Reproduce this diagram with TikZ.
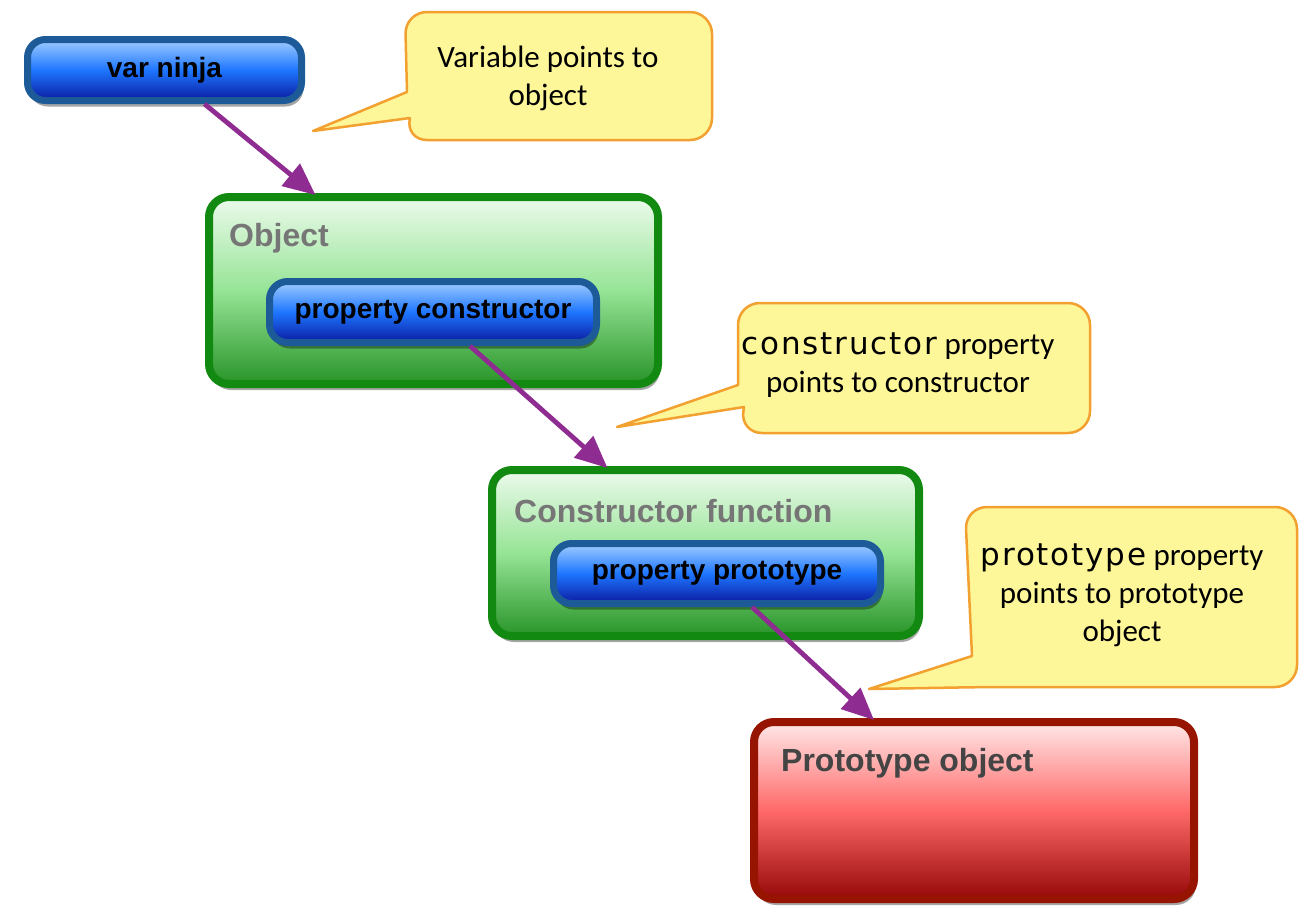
\documentclass[tikz,border=0pt]{standalone}
\usepackage{fontspec}
\setmainfont{Liberation Sans}
\newfontfamily\handfont{Carlito}
\newfontfamily\codefont[LetterSpace=6]{DejaVu Sans}
\usetikzlibrary{shadows,arrows.meta}
\definecolor{pillborder}{RGB}{28,90,152}
\definecolor{pilltop}{RGB}{160,205,255}
\definecolor{pillmid}{RGB}{30,118,255}
\definecolor{pillbot}{RGB}{10,26,160}
\definecolor{grnborder}{RGB}{18,138,18}
\definecolor{grntop}{RGB}{236,250,236}
\definecolor{grnmid}{RGB}{150,228,150}
\definecolor{grnbot}{RGB}{40,148,40}
\definecolor{redborder}{RGB}{150,20,0}
\definecolor{redtop}{RGB}{255,232,232}
\definecolor{redmid}{RGB}{255,105,105}
\definecolor{redbot}{RGB}{150,8,8}
\definecolor{arrowpurple}{RGB}{142,44,145}
\definecolor{calloutfill}{RGB}{254,247,154}
\definecolor{calloutborder}{RGB}{242,160,48}
\definecolor{titlegray}{RGB}{118,118,118}
\definecolor{titledark}{RGB}{68,68,68}
\tikzset{
  boxshadow/.style={drop shadow={shadow xshift=2pt,shadow yshift=-6pt,fill=black,opacity=0.35}},
  pill/.style={draw=pillborder,line width=7pt,rounded corners=18pt,
    top color=pilltop,bottom color=pillbot,middle color=pillmid,
    inner sep=0pt,font=\fontsize{28}{30}\selectfont\bfseries,text=black,boxshadow},
  grnbox/.style={draw=grnborder,line width=8pt,rounded corners=20pt,
    top color=grntop,bottom color=grnbot,middle color=grnmid,inner sep=0pt,boxshadow},
  redbox/.style={draw=redborder,line width=8pt,rounded corners=20pt,
    top color=redtop,bottom color=redbot,middle color=redmid,inner sep=0pt,boxshadow},
  boxtitle/.style={anchor=west,inner sep=0pt,font=\fontsize{32}{34}\selectfont\bfseries,text=titlegray},
  link/.style={draw=arrowpurple,line width=4.8pt,-{Triangle[length=32pt,width=28pt]}},
  callout/.style={draw=calloutborder,fill=calloutfill,line width=2.5pt,line join=round},
  handtext/.style={align=center,inner sep=0pt,font=\handfont\fontsize{31}{38}\selectfont,text=black}
}
\begin{document}
\begin{tikzpicture}[x=1pt,y=-1pt]
\useasboundingbox[fill=white] (0,0) rectangle (1310,910);

% callouts
\draw[callout] (313,131) -- (407,92) [rounded corners=22pt] -- (405,12) -- (712,12) -- (712,140) -- (405,140) [sharp corners] -- (410,118) -- cycle;
\node[handtext] (c1) at (548,78) {Variable points to\\object};

\draw[callout] (617,427) -- (738,385) [rounded corners=22pt] -- (738,303) -- (1090,303) -- (1090,433) -- (740,433) [sharp corners] -- (744,407) -- cycle;
\node[handtext] (c2) at (898,365) {{\codefont constructor} property\\points to constructor};

\draw[callout] (869,689) -- (972,656) [rounded corners=22pt] -- (965,507) -- (1297,507) -- (1297,687) -- (988,687) [sharp corners] -- cycle;
\node[handtext] (c3) at (1122,595) {{\codefont prototype} property\\points to prototype\\object};

% boxes
\node[pill,minimum width=274pt,minimum height=61pt] (ninja) at (164.5,70) {var ninja};

\node[grnbox,minimum width=449pt,minimum height=187pt] (obj) at (433.5,290.5) {};
\node[boxtitle] (objt) at (229,238) {Object};
\node[pill,minimum width=327pt,minimum height=61pt] (pc) at (433,312) {property constructor};

\node[grnbox,minimum width=427pt,minimum height=166pt] (cf) at (705.5,553) {};
\node[boxtitle] (cft) at (514,511) {Constructor function};
\node[pill,minimum width=327pt,minimum height=60pt] (pp) at (717,573.5) {property prototype};

\node[redbox,minimum width=440pt,minimum height=177pt] (po) at (974,810.5) {};
\node[boxtitle,text=titledark] (pot) at (781,763) {Prototype object};

% links
\draw[link] ([xshift=40pt]ninja.south) -- ([xshift=-118pt,yshift=-2pt]obj.north);
\draw[link] ([xshift=37pt]pc.south) -- ([xshift=-98pt,yshift=-2pt]cf.north);
\draw[link] ([xshift=35pt]pp.south) -- ([xshift=-100pt,yshift=-2pt]po.north);
\end{tikzpicture}
\end{document}
